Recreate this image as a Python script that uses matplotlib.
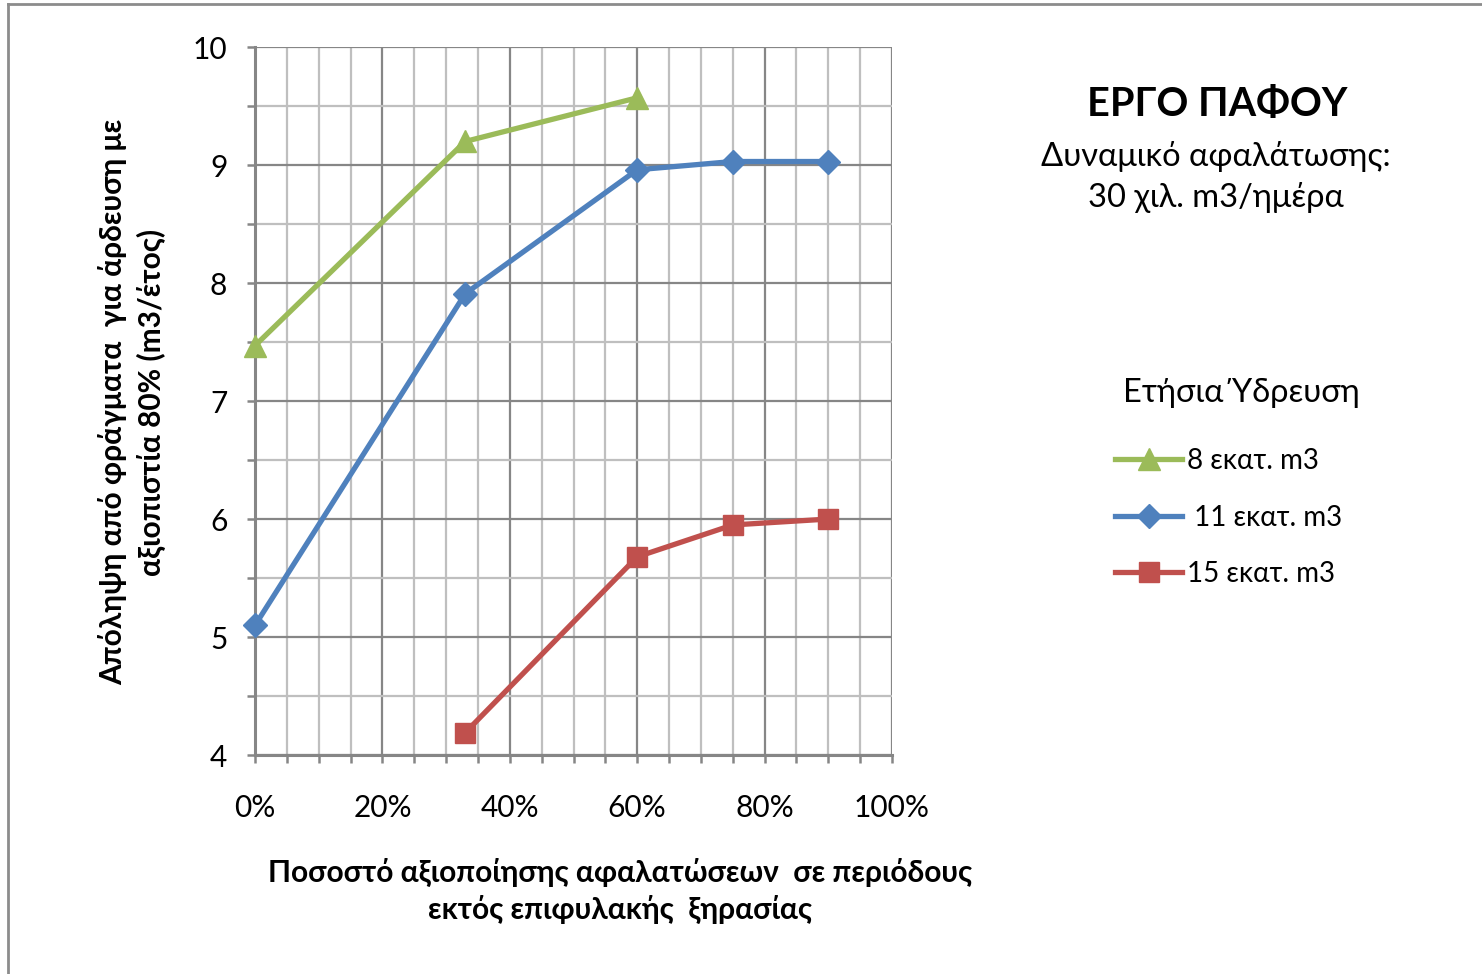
import numpy as np
import matplotlib
matplotlib.use("Agg")
import matplotlib.pyplot as plt
from matplotlib.lines import Line2D
from matplotlib.ticker import MultipleLocator, PercentFormatter

plt.rcParams['font.family'] = ['Lato', 'Noto Sans', 'DejaVu Sans']

# data
x_8 = [0.0, 0.33, 0.60]
y_8 = [7.47, 9.20, 9.57]
x_11 = [0.0, 0.33, 0.60, 0.75, 0.90]
y_11 = [5.10, 7.91, 8.96, 9.03, 9.03]
x_15 = [0.33, 0.60, 0.75, 0.90]
y_15 = [4.19, 5.68, 5.95, 6.00]

labels = ["8 εκατ. m3", " 11 εκατ. m3", "15 εκατ. m3"]

fig = plt.figure(figsize=(14.82, 9.74), dpi=100)
ax = fig.add_axes([0.1721, 0.2248, 0.6019 - 0.1721, 0.9517 - 0.2248])

grey_major = "#868686"
grey_minor = "#BFBFBF"

l8, = ax.plot(x_8, y_8, color="#9BBB59", lw=3.8, marker="^", ms=16, zorder=5, clip_on=False)
l11, = ax.plot(x_11, y_11, color="#4F81BD", lw=3.8, marker="D", ms=12, zorder=5, clip_on=False)
l15, = ax.plot(x_15, y_15, color="#C0504D", lw=3.8, marker="s", ms=15, zorder=5, clip_on=False)

ax.set_xlim(0, 1)
ax.set_ylim(4, 10)
ax.xaxis.set_major_locator(MultipleLocator(0.2))
ax.xaxis.set_minor_locator(MultipleLocator(0.05))
ax.yaxis.set_major_locator(MultipleLocator(1))
ax.yaxis.set_minor_locator(MultipleLocator(0.5))
ax.xaxis.set_major_formatter(PercentFormatter(1.0, decimals=0))

ax.grid(which="major", color=grey_major, lw=1.6)
ax.grid(which="minor", color=grey_minor, lw=1.6)
ax.set_axisbelow(True)

for s in ["top", "right"]:
    ax.spines[s].set_visible(False)
for s in ["left", "bottom"]:
    ax.spines[s].set_color(grey_major)
    ax.spines[s].set_linewidth(2.2)

ax.tick_params(which="both", direction="out", length=6, width=1.8, color=grey_major)
ax.tick_params(axis="y", which="major", labelsize=21.5, pad=14)
ax.tick_params(axis="x", which="major", labelsize=21.5, pad=22)

fig.text(0.089, 0.587,
         "Απόληψη από φράγματα  για άρδευση με\nαξιοπιστία 80% (m3/έτος)",
         rotation=90, ha="center", va="center", fontsize=21.5, fontweight="bold",
         linespacing=1.38)
fig.text(0.4185, 0.085,
         "Ποσοστό αξιοποίησης αφαλατώσεων  σε περιόδους\nεκτός επιφυλακής  ξηρασίας",
         ha="center", va="center", fontsize=21.5, fontweight="bold", linespacing=1.33)

fig.text(0.8215, 0.893, "ΕΡΓΟ ΠΑΦΟΥ", ha="center", va="center",
         fontsize=28.5, fontweight="bold")
fig.text(0.8205, 0.8178, "Δυναμικό αφαλάτωσης:\n30 χιλ. m3/ημέρα", ha="center", va="center",
         fontsize=23.5, linespacing=1.4)

fig.text(1241 / 1482, 1 - 393 / 974, "Ετήσια Ύδρευση", ha="center", va="center",
         fontsize=23.5)
leg = fig.legend([l8, l11, l15], labels, loc="upper left",
                 bbox_to_anchor=(0.7394, 0.560), frameon=False, fontsize=20,
                 handlelength=2.4, handletextpad=0.2, labelspacing=1.1,
                 borderpad=0.2)

# chart frame
fig.add_artist(Line2D([8 / 1482, 1.0], [1 - 4 / 974, 1 - 4 / 974], color="#8C8C8C", lw=2))
fig.add_artist(Line2D([8 / 1482, 8 / 1482], [0.0, 1 - 4 / 974], color="#8C8C8C", lw=2))

fig.savefig("out.png", dpi=100)
